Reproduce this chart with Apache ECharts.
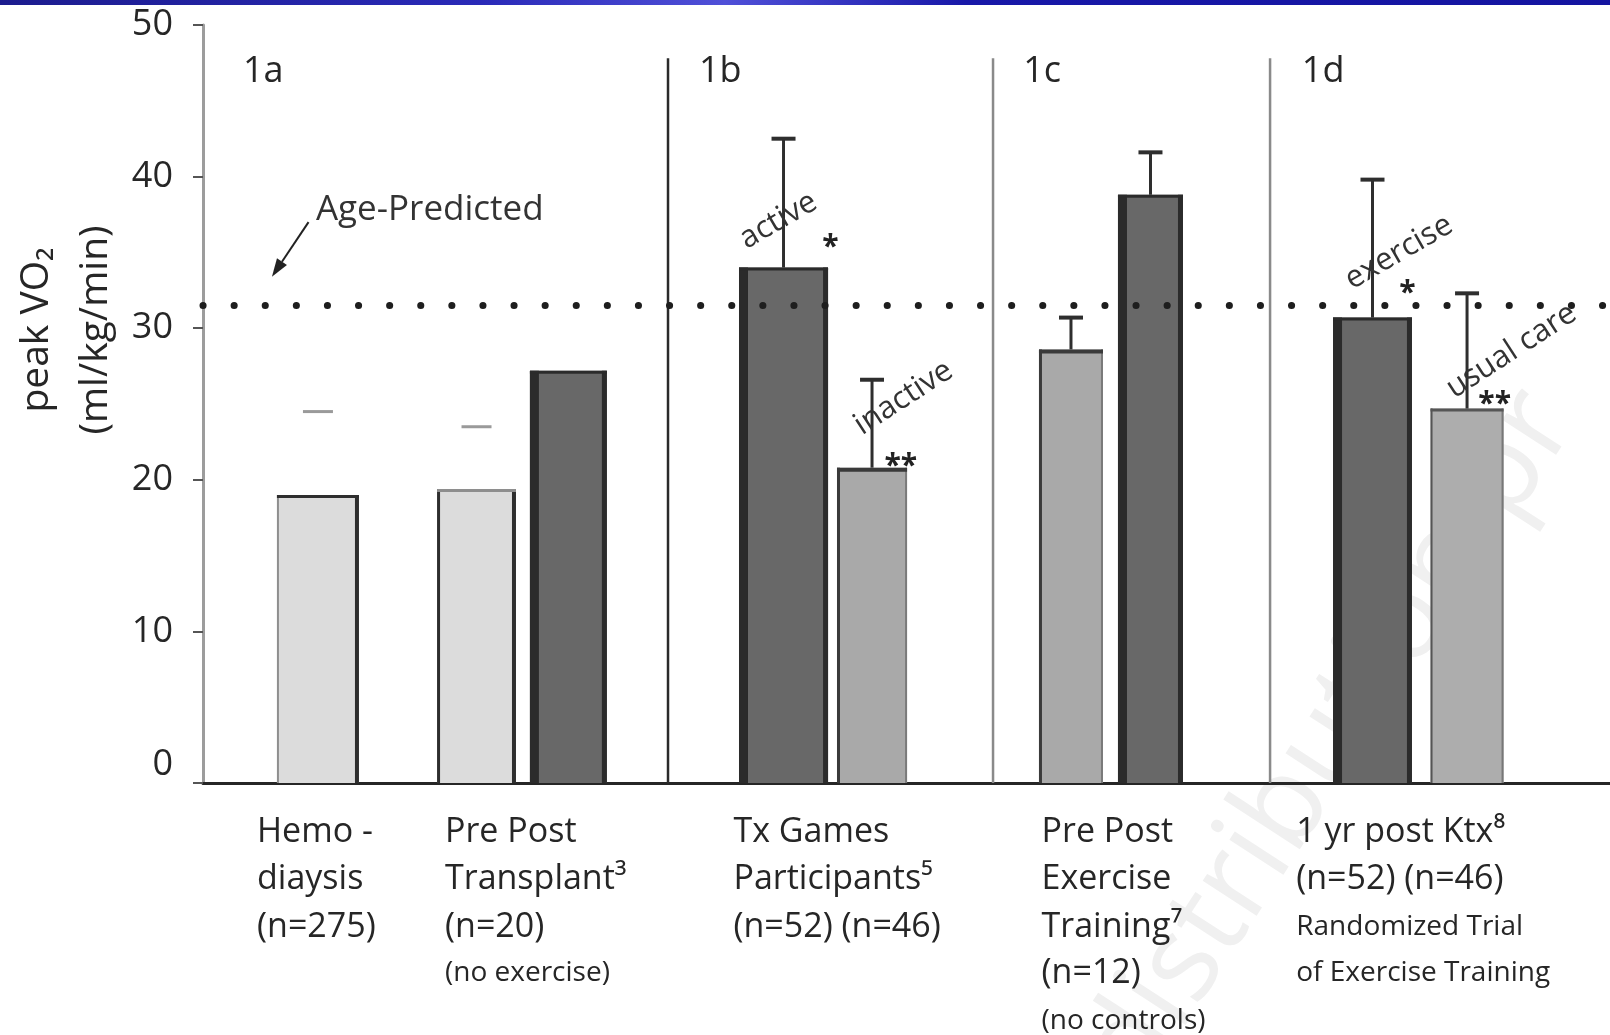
<!DOCTYPE html>
<html><head><meta charset="utf-8">
<script src="https://cdn.jsdelivr.net/npm/echarts@6/dist/echarts.min.js"></script>
<style>html,body{margin:0;padding:0;background:#fff}#main{width:1610px;height:1035px}</style>
</head><body><div id="main"></div>
<script>
// ---------------- data ----------------
const groups = ['Hemodialysis', 'Pre transplant', 'Post transplant', 'Tx Games active', 'Tx Games inactive',
  'Pre training', 'Post training', 'Exercise', 'Usual care'];
const peakVO2 = [19.0, 19.4, 27.2, 34.0, 20.8, 28.6, 38.8, 30.7, 24.7];
const errorTop = [24.5, 23.5, null, 42.5, 26.6, 30.7, 41.6, 39.8, 32.3];
const agePredicted = 31.5;
const yTicks = [0, 10, 20, 30, 40, 50];
const panelLabels = ['1a', '1b', '1c', '1d'];
const groupLabelLines = [
  ['Hemo -', 'diaysis', '(n=275)'],
  ['Pre Post', 'Transplant³', '(n=20)', '(no exercise)'],
  ['Tx Games', 'Participants⁵', '(n=52) (n=46)'],
  ['Pre Post', 'Exercise', 'Training⁷', '(n=12)', '(no controls)'],
  ['1 yr post Ktx⁸', '(n=52) (n=46)', 'Randomized Trial', 'of Exercise Training']
];
const noteTexts = ['active', 'inactive', 'exercise', 'usual care'];
const sigMarks = ['*', '**', '*', '**'];
const refLabel = 'Age-Predicted';
const yName = ['peak VO₂', '(ml/kg/min)'];

// ---------------- layout (axis units, x: 0..100) ----------------
const barCenter = [8.17, 19.44, 25.97, 41.26, 47.55, 61.69, 67.34, 83.12, 89.84];
const barWidth = [5.83, 5.61, 5.47, 6.33, 4.98, 4.55, 4.62, 5.61, 5.19];
const barKind = ['light', 'light2', 'dark', 'dark', 'mid', 'mid', 'dark', 'dark', 'mid2'];
const capOnly = [true, true, false, false, false, false, false, false, false];
const dividerX = [33.05, 56.15, 75.84];
const dividerTop = 47.8;
const panelLabelX = [2.84, 35.25, 58.3, 78.1];
const panelLabelY = 46.9;
const groupLabelX = [3.84, 17.2, 37.7, 59.6, 77.7];
const groupSmall = [[], [3], [], [4], [2, 3]];
const lineOffsets = [49, 96, 144, 190, 238];
const notePos = [[40.9, 37.1, 30], [49.8, 25.4, 33], [85.0, 35.0, 30], [93.0, 28.5, 33]];
const sigPos = [[44.6, 35.3], [49.6, 20.9], [85.6, 32.3], [91.8, 25.0]];
const refLabelPos = [8.03, 37.8];
const arrowFrom = [7.5, 37.0], arrowTo = [4.9, 33.4];

const FONT = "'Open Sans', 'Noto Sans', 'DejaVu Sans', sans-serif";
const TXT = '#262626';
const kinds = {
  light:  {fill: '#dcdcdc', lw: 2, lc: '#8e8e8e', rw: 4, rc: '#2e2e2e', tw: 3, tc: '#2e2e2e'},
  light2: {fill: '#dcdcdc', lw: 3, lc: '#2e2e2e', rw: 4, rc: '#2e2e2e', tw: 3, tc: '#8e8e8e'},
  dark:   {fill: '#686868', lw: 9, lc: '#2b2b2b', rw: 5, rc: '#2b2b2b', tw: 3, tc: '#2b2b2b'},
  mid:    {fill: '#a9a9a9', lw: 3, lc: '#3a3a3a', rw: 2, rc: '#7a7a7a', tw: 4, tc: '#3a3a3a'},
  mid2:   {fill: '#adadad', lw: 2, lc: '#555555', rw: 2, rc: '#777777', tw: 3, tc: '#555555'}
};

const chart = echarts.init(document.getElementById('main'), null, {renderer: 'canvas'});

function barItem(params, api) {
  const i = params.dataIndex;
  const c = api.value(0), v = api.value(1), w = api.value(2);
  const tl = api.coord([c - w / 2, v]);
  const br = api.coord([c + w / 2, 0]);
  const k = kinds[barKind[i]];
  const x0 = tl[0], y0 = tl[1], W = br[0] - tl[0], H = br[1] - tl[1];
  return {type: 'group', children: [
    {type: 'rect', shape: {x: x0, y: y0, width: W, height: H}, style: {fill: k.fill}},
    {type: 'rect', shape: {x: x0, y: y0, width: k.lw, height: H}, style: {fill: k.lc}},
    {type: 'rect', shape: {x: x0 + W - k.rw, y: y0, width: k.rw, height: H}, style: {fill: k.rc}},
    {type: 'rect', shape: {x: x0, y: y0, width: W, height: k.tw}, style: {fill: k.tc}}
  ]};
}

function errItem(params, api) {
  const i = params.dataIndex;
  const c = api.value(0), top = api.value(1), v = api.value(2);
  if (isNaN(top)) return null;
  const pt = api.coord([c, top]);
  const pb = api.coord([c, v]);
  if (capOnly[i]) {
    return {type: 'line', shape: {x1: pt[0] - 15, y1: pt[1], x2: pt[0] + 15, y2: pt[1]},
      style: {stroke: '#9a9a9a', lineWidth: 3}};
  }
  return {type: 'group', children: [
    {type: 'line', shape: {x1: pt[0], y1: pt[1], x2: pb[0], y2: pb[1]}, style: {stroke: '#2e2e2e', lineWidth: 3}},
    {type: 'line', shape: {x1: pt[0] - 12, y1: pt[1], x2: pt[0] + 12, y2: pt[1]}, style: {stroke: '#2e2e2e', lineWidth: 4}}
  ]};
}

function dividerItem(params, api) {
  const x = api.value(0);
  const pt = api.coord([x, dividerTop]);
  const pb = api.coord([x, 0]);
  const col = params.dataIndex === 0 ? '#2a2a2a' : '#8a8a8a';
  return {type: 'line', shape: {x1: pt[0], y1: pt[1], x2: pb[0], y2: pb[1]}, style: {stroke: col, lineWidth: 2.5}};
}

function panelLabelItem(params, api) {
  const p = api.coord([api.value(0), panelLabelY]);
  return {type: 'text', x: p[0], y: p[1], style: {text: panelLabels[params.dataIndex], fontFamily: FONT,
    fontSize: 36, fill: TXT, align: 'left', verticalAlign: 'middle'}};
}

function groupLabelItem(params, api) {
  const g = params.dataIndex;
  const p = api.coord([api.value(0), 0]);
  const children = groupLabelLines[g].map((t, j) => {
    const small = groupSmall[g].indexOf(j) >= 0;
    return {type: 'text', x: p[0], y: p[1] + lineOffsets[j], style: {text: t, fontFamily: FONT,
      fontSize: small ? 28 : 34, fill: TXT, align: 'left', verticalAlign: 'middle'}};
  });
  return {type: 'group', children};
}

function noteItem(params, api) {
  const i = params.dataIndex;
  const p = api.coord([api.value(0), api.value(1)]);
  return {type: 'text', x: p[0], y: p[1], rotation: notePos[i][2] * Math.PI / 180,
    style: {text: noteTexts[i], fontFamily: FONT, fontSize: 31, fill: '#333', align: 'center', verticalAlign: 'middle'}};
}

function sigItem(params, api) {
  const i = params.dataIndex;
  const p = api.coord([api.value(0), api.value(1)]);
  return {type: 'text', x: p[0], y: p[1], style: {text: sigMarks[i], fontFamily: FONT, fontWeight: 'bold',
    fontSize: 30, fill: '#222', align: 'center', verticalAlign: 'middle'}};
}

function refLabelItem(params, api) {
  const p = api.coord([api.value(0), api.value(1)]);
  return {type: 'text', x: p[0], y: p[1], style: {text: refLabel, fontFamily: FONT, fontSize: 35,
    fill: '#333', align: 'left', verticalAlign: 'middle'}};
}

function arrowItem(params, api) {
  const a = api.coord([api.value(0), api.value(1)]);
  const b = api.coord([api.value(2), api.value(3)]);
  const dx = b[0] - a[0], dy = b[1] - a[1];
  const len = Math.sqrt(dx * dx + dy * dy);
  const ux = dx / len, uy = dy / len;
  const hl = 18, hw = 6;
  const bx = b[0] - ux * hl, by = b[1] - uy * hl;
  return {type: 'group', children: [
    {type: 'line', shape: {x1: a[0], y1: a[1], x2: bx, y2: by}, style: {stroke: '#222', lineWidth: 2}},
    {type: 'polygon', shape: {points: [[b[0], b[1]], [bx - uy * hw, by + ux * hw], [bx + uy * hw, by - ux * hw]]},
      style: {fill: '#222'}}
  ]};
}

const option = {
  animation: false,
  backgroundColor: '#ffffff',
  grid: {left: 203, right: 0, top: 25, bottom: 252, containLabel: false},
  xAxis: {type: 'value', min: 0, max: 100, show: true,
    axisLine: {show: true, onZero: false, lineStyle: {color: '#262626', width: 3}},
    axisTick: {show: false}, axisLabel: {show: false}, splitLine: {show: false}},
  yAxis: {type: 'value', min: yTicks[0], max: yTicks[yTicks.length - 1], interval: yTicks[1] - yTicks[0],
    axisLine: {show: true, lineStyle: {color: '#9c9c9c', width: 3}},
    axisTick: {show: true, inside: false, length: 10, lineStyle: {color: '#555', width: 2}},
    splitLine: {show: false},
    axisLabel: {margin: 30, fontFamily: FONT, fontSize: 36, color: TXT,
      formatter: v => v === 0 ? '{z|0}' : String(v),
      rich: {z: {fontFamily: FONT, fontSize: 36, color: TXT, padding: [0, 0, 36, 0]}}}
  },
  graphic: [
    {type: 'rect', left: 0, top: 0, z: 100, shape: {width: 1610, height: 5},
      style: {fill: new echarts.graphic.LinearGradient(0, 0, 1, 0, [
        {offset: 0, color: '#1c1c8e'}, {offset: 0.3, color: '#2a2ab8'}, {offset: 0.45, color: '#5050d8'},
        {offset: 0.6, color: '#1818a8'}, {offset: 1, color: '#1414a0'}])}},
    {type: 'text', x: 1330, y: 740, rotation: 57 * Math.PI / 180, z: -10,
      style: {text: 'distribution pr', fontFamily: FONT, fontSize: 120, fill: '#f0f0f0', align: 'center', verticalAlign: 'middle'}},
    {type: 'text', x: 66, y: 330, rotation: Math.PI / 2, z: 10,
      style: {text: yName.join('\n'), fontFamily: FONT, fontSize: 39, lineHeight: 59, fill: TXT,
        align: 'center', verticalAlign: 'middle'}}
  ],
  series: [
    {type: 'custom', name: 'dividers', z: 1, renderItem: dividerItem, encode: {x: 0},
      data: dividerX.map(x => [x])},
    {type: 'custom', name: 'peak VO2', z: 2, renderItem: barItem, encode: {x: 0, y: 1},
      data: groups.map((g, i) => [barCenter[i], peakVO2[i], barWidth[i]])},
    {type: 'custom', name: 'error', z: 3, renderItem: errItem, encode: {x: 0, y: 1},
      data: groups.map((g, i) => [barCenter[i], errorTop[i] == null ? NaN : errorTop[i], peakVO2[i]])},
    {type: 'line', name: 'age predicted', z: 4, data: [], symbol: 'none',
      markLine: {silent: true, symbol: ['none', 'none'], label: {show: false},
        lineStyle: {color: '#1e1e1e', width: 7, type: [0.1, 31], cap: 'round'},
        data: [{yAxis: agePredicted}]}},
    {type: 'custom', name: 'arrow', z: 4, renderItem: arrowItem, encode: {x: [0, 2], y: [1, 3]},
      data: [[arrowFrom[0], arrowFrom[1], arrowTo[0], arrowTo[1]]]},
    {type: 'custom', name: 'panels', z: 5, renderItem: panelLabelItem, encode: {x: 0},
      data: panelLabelX.map(x => [x])},
    {type: 'custom', name: 'groups', z: 5, clip: false, renderItem: groupLabelItem, encode: {x: 0},
      data: groupLabelX.map(x => [x])},
    {type: 'custom', name: 'notes', z: 5, renderItem: noteItem, encode: {x: 0, y: 1},
      data: notePos.map(p => [p[0], p[1]])},
    {type: 'custom', name: 'sig', z: 5, renderItem: sigItem, encode: {x: 0, y: 1},
      data: sigPos.map(p => [p[0], p[1]])},
    {type: 'custom', name: 'ref', z: 5, renderItem: refLabelItem, encode: {x: 0, y: 1},
      data: [refLabelPos]}
  ]
};
chart.setOption(option);
</script></body></html>
